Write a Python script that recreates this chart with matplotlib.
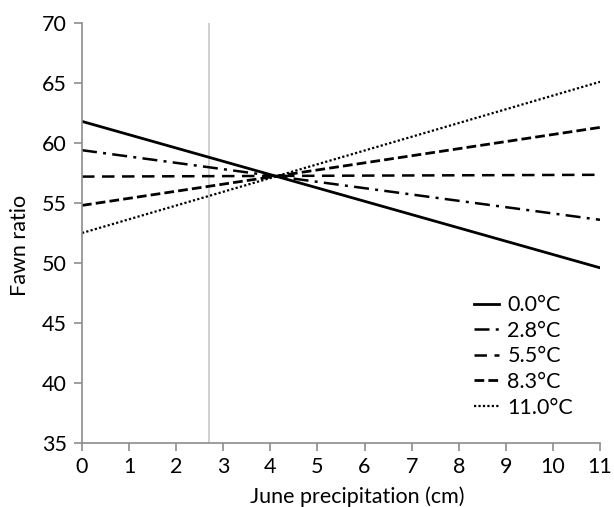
import matplotlib
matplotlib.use("Agg")
import matplotlib.pyplot as plt

x_range = [0, 11]
labels = ["0.0°C", "2.8°C", "5.5°C", "8.3°C", "11.0°C"]
start_vals = [61.8, 59.4, 57.2, 54.8, 52.5]
end_vals = [49.6, 53.6, 57.35, 61.3, 65.1]
vline_x = 2.7
xticks = list(range(0, 12))
yticks = list(range(35, 71, 5))

styles = [
    dict(linestyle="-", linewidth=2.0),
    dict(linestyle=(0, (6, 2.5, 1.2, 2.5)), linewidth=1.8),
    dict(linestyle=(0, (5, 3)), linewidth=1.8),
    dict(linestyle=(0, (3.5, 1.5)), linewidth=2.0),
    dict(linestyle=(0, (1, 1)), linewidth=1.6),
]

FS = 15.5
plt.rcParams['font.family'] = ['Lato', 'DejaVu Sans']
fig = plt.figure(figsize=(6.14, 5.07), dpi=100)
ax = fig.add_axes([82/614, 64/507, 518/614, 420/507])

ax.axvline(vline_x, color="#c8c8c8", linewidth=1.2, zorder=1)
for lab, s, e, st in zip(labels, start_vals, end_vals, styles):
    ax.plot(x_range, [s, e], color="black", label=lab, zorder=2, **st)

ax.set_xlim(0, 11)
ax.set_ylim(35, 70)
ax.set_xticks(xticks)
ax.set_yticks(yticks)
for sp in ["top", "right"]:
    ax.spines[sp].set_visible(False)
for sp in ["left", "bottom"]:
    ax.spines[sp].set_color("#8c8c8c")
    ax.spines[sp].set_linewidth(1.2)
ax.tick_params(axis="both", colors="#8c8c8c", labelcolor="black", labelsize=FS, length=6, width=1.2)
ax.tick_params(axis="x", pad=4)
ax.tick_params(axis="y", pad=5)
ax.set_xlabel("June precipitation (cm)", fontsize=FS)
ax.set_ylabel("Fawn ratio", fontsize=FS)
ax.xaxis.set_label_coords(0.531, -0.103)
ax.yaxis.set_label_coords(-0.10, 0.471)

leg = ax.legend(loc="lower right", bbox_to_anchor=(0.969, 0.035), frameon=False, fontsize=FS,
                handlelength=1.2, handletextpad=0.37, labelspacing=0.26, borderpad=0)
fig.savefig("out.png", dpi=100)
